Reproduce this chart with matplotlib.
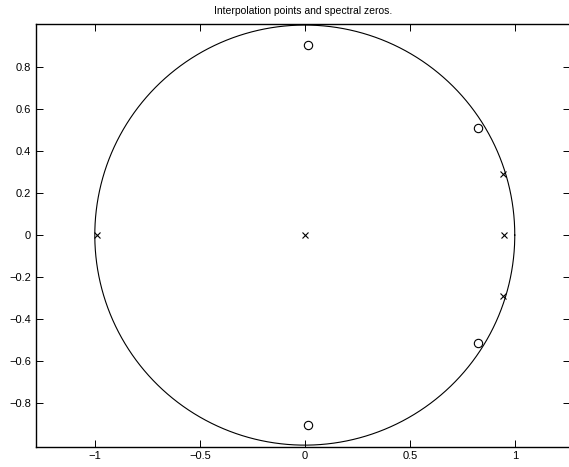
import numpy as np
import matplotlib
matplotlib.use('Agg')
import matplotlib.pyplot as plt

plt.rcParams['font.family'] = ['Liberation Sans', 'DejaVu Sans']

# interpolation points (x) and spectral zeros (o)
interp_re = [-0.99, 0.0, 0.95, 0.945, 0.945]
interp_im = [0.0, 0.0, 0.0, 0.29, -0.29]
zeros_re = [0.015, 0.825, 0.825, 0.015]
zeros_im = [0.905, 0.512, -0.512, -0.905]

xticks = [-1, -0.5, 0, 0.5, 1]
xticklabels = ['\u22121', '\u22120.5', '0', '0.5', '1']
yticks = [-0.8, -0.6, -0.4, -0.2, 0, 0.2, 0.4, 0.6, 0.8]
yticklabels = ['\u22120.8', '\u22120.6', '\u22120.4', '\u22120.2', '0', '0.2', '0.4', '0.6', '0.8']

fig = plt.figure(figsize=(5.69, 4.67), dpi=100)
ax = fig.add_axes([36/569, 20.5/467, 534/569, 422.5/467])

t = np.linspace(0, 2*np.pi, 400)
ax.plot(np.cos(t), np.sin(t), color='black', linewidth=0.8)
ax.plot(interp_re, interp_im, 'x', color='black', markersize=4, markeredgewidth=0.8)
ax.plot(zeros_re, zeros_im, 'o', color='black', markersize=6, markerfacecolor='none', markeredgewidth=0.8)

ax.set_xlim(-1.28, 1.263)
ax.set_ylim(-1.0065, 1.005)
ax.set_xticks(xticks)
ax.set_xticklabels(xticklabels)
ax.set_yticks(yticks)
ax.set_yticklabels(yticklabels)
ax.tick_params(direction='in', top=True, right=True, labelsize=8, length=5, width=0.7)
for s in ax.spines.values():
    s.set_linewidth(1.0)

ax.set_title('Interpolation points and spectral zeros.', fontsize=7.5, pad=7)

fig.savefig('out.png', dpi=100)
